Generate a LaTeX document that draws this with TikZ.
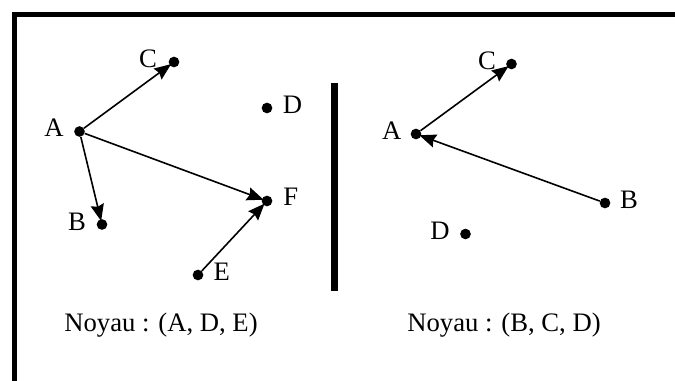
\documentclass[tikz,border=0pt]{standalone}
\usepackage{fontspec}
\setmainfont{Liberation Serif}
\usepackage{tikz}
\usetikzlibrary{arrows.meta}
\tikzset{
  sommet/.style={circle, fill=black, inner sep=0pt, minimum size=8pt},
  lettre/.style={inner sep=0pt, font=\fontsize{20}{24}\selectfont},
  arc/.style={-{Stealth[length=12.5pt, width=10pt, inset=1.5pt]}, line width=1.2pt, shorten >=-1.5pt}
}

\begin{document}
\begin{tikzpicture}[x=0.75pt, y=-0.75pt]
  \useasboundingbox (0,0) rectangle (675,381);
  % cadre
  \draw[line width=3.75pt] (14.5,381) -- (14.5,14.5) -- (675,14.5);
  % séparation
  \draw[line width=5.25pt] (334.5,83) -- (334.5,291);
  % graphe de gauche
  \node[sommet] (gA) at (79.5,131.5) {};
  \node[sommet] (gC) at (174,62) {};
  \node[sommet] (gD) at (267,108) {};
  \node[sommet] (gF) at (267,201) {};
  \node[sommet] (gB) at (102,224.5) {};
  \node[sommet] (gE) at (198,275) {};
  \node[lettre] (gAt) at (54,128) {A};
  \node[lettre] (gCt) at (148,59) {C};
  \node[lettre] (gDt) at (292.5,104.5) {D};
  \node[lettre] (gFt) at (290.7,197) {F};
  \node[lettre] (gBt) at (77,222) {B};
  \node[lettre] (gEt) at (221.7,272) {E};
  \draw[arc] (gA) -- (gC);
  \draw[arc] (gA) -- (gB);
  \draw[arc] (gA) -- (gF);
  \draw[arc] (gE) -- (gF);
  \node[lettre] (gNoyau) at (161,325) {Noyau : (A, D, E)};
  % graphe de droite
  \node[sommet] (dA) at (416,134) {};
  \node[sommet] (dC) at (511.5,64) {};
  \node[sommet] (dB) at (605,203) {};
  \node[sommet] (dD) at (465.5,234) {};
  \node[lettre] (dAt) at (391.7,131) {A};
  \node[lettre] (dCt) at (487,61) {C};
  \node[lettre] (dBt) at (629,199.5) {B};
  \node[lettre] (dDt) at (440,230.5) {D};
  \draw[arc] (dA) -- (dC);
  \draw[arc] (dB) -- (dA);
  \node[lettre] (dNoyau) at (504,325) {Noyau : (B, C, D)};
\end{tikzpicture}
\end{document}
